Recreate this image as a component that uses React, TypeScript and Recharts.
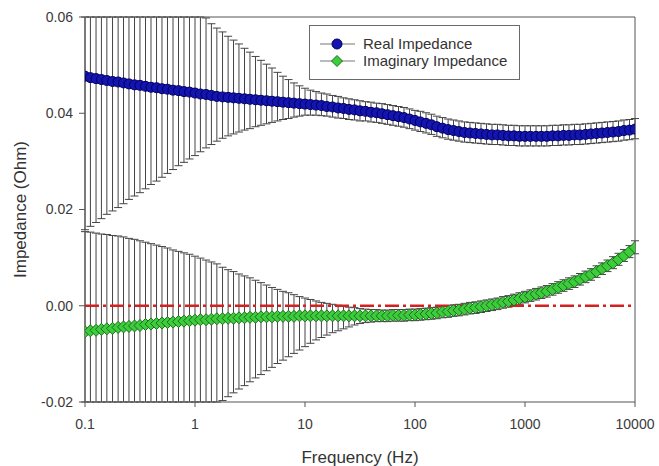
import React from 'react';
import { ComposedChart, Line, XAxis, YAxis, ErrorBar, ReferenceLine, Legend, Label } from 'recharts';

// 20 points per decade, 0.1 Hz .. 10 kHz
const frequency = [
  0.1, 0.112, 0.126, 0.141, 0.158, 0.178, 0.2, 0.224, 0.251, 0.282, 0.316, 0.355, 0.398, 0.447, 0.501, 0.562, 0.631, 0.708, 0.794, 0.891,
  1, 1.12, 1.26, 1.41, 1.58, 1.78, 2, 2.24, 2.51, 2.82, 3.16, 3.55, 3.98, 4.47, 5.01, 5.62, 6.31, 7.08, 7.94, 8.91,
  10, 11.2, 12.6, 14.1, 15.8, 17.8, 20, 22.4, 25.1, 28.2, 31.6, 35.5, 39.8, 44.7, 50.1, 56.2, 63.1, 70.8, 79.4, 89.1,
  100, 112, 126, 141, 158, 178, 200, 224, 251, 282, 316, 355, 398, 447, 501, 562, 631, 708, 794, 891,
  1000, 1120, 1260, 1410, 1580, 1780, 2000, 2240, 2510, 2820, 3160, 3550, 3980, 4470, 5010, 5620, 6310, 7080, 7940, 8910,
  10000,
];

const realZ = [
  0.0477, 0.0474, 0.0472, 0.047, 0.0468, 0.0466, 0.0465, 0.0463, 0.0461, 0.0459, 0.0458, 0.0456, 0.0454, 0.0453, 0.0451, 0.045, 0.0448, 0.0447, 0.0445, 0.0444,
  0.0442, 0.044, 0.0439, 0.0437, 0.0435, 0.0434, 0.0433, 0.0432, 0.0431, 0.043, 0.0429, 0.0428, 0.0427, 0.0426, 0.0425, 0.0424, 0.0423, 0.0422, 0.0421, 0.042,
  0.0419, 0.0418, 0.0417, 0.0416, 0.0414, 0.0413, 0.0411, 0.041, 0.0408, 0.0407, 0.0405, 0.0404, 0.0402, 0.0401, 0.0399, 0.0397, 0.0395, 0.0393, 0.0391, 0.0388,
  0.0385, 0.0382, 0.0379, 0.0376, 0.0372, 0.0369, 0.0366, 0.0364, 0.0362, 0.036, 0.0359, 0.0358, 0.0357, 0.0356, 0.0355, 0.0355, 0.0354, 0.0353, 0.0353, 0.0352,
  0.0352, 0.0352, 0.0352, 0.0352, 0.0352, 0.0353, 0.0353, 0.0354, 0.0354, 0.0355, 0.0355, 0.0356, 0.0357, 0.0358, 0.0359, 0.036, 0.0361, 0.0362, 0.0364, 0.0365,
  0.0367,
];

const realHigh = [
  0.08, 0.0795, 0.079, 0.0785, 0.078, 0.0775, 0.077, 0.076, 0.075, 0.074, 0.073, 0.072, 0.071, 0.07, 0.069, 0.0675, 0.066, 0.065, 0.064, 0.063,
  0.062, 0.061, 0.0598, 0.0586, 0.0577, 0.0569, 0.056, 0.0552, 0.0544, 0.0535, 0.0527, 0.0518, 0.051, 0.0502, 0.0494, 0.0485, 0.0477, 0.047, 0.0463, 0.0457,
  0.0452, 0.0448, 0.0445, 0.0442, 0.044, 0.0437, 0.0435, 0.0432, 0.043, 0.0428, 0.0426, 0.0424, 0.0423, 0.0421, 0.042, 0.0418, 0.0416, 0.0414, 0.0412, 0.0409,
  0.0406, 0.0404, 0.0401, 0.0398, 0.0394, 0.0391, 0.0388, 0.0386, 0.0384, 0.0382, 0.0381, 0.038, 0.0379, 0.0378, 0.0377, 0.0377, 0.0376, 0.0375, 0.0375, 0.0374,
  0.0374, 0.0374, 0.0374, 0.0374, 0.0374, 0.0375, 0.0375, 0.0376, 0.0376, 0.0377, 0.0377, 0.0378, 0.0379, 0.038, 0.0381, 0.0382, 0.0383, 0.0384, 0.0386, 0.0387,
  0.0389,
];

const realLow = [
  0.0158, 0.0165, 0.0173, 0.0181, 0.019, 0.0197, 0.0204, 0.0212, 0.0221, 0.0228, 0.0235, 0.0243, 0.0252, 0.0259, 0.0267, 0.0275, 0.0283, 0.0291, 0.0298, 0.0305,
  0.0312, 0.032, 0.0328, 0.0335, 0.0342, 0.0348, 0.0353, 0.0357, 0.0361, 0.0365, 0.0368, 0.0372, 0.0375, 0.0378, 0.0381, 0.0384, 0.0387, 0.0389, 0.0392, 0.0394,
  0.0396, 0.0396, 0.0396, 0.0395, 0.0394, 0.0392, 0.039, 0.0389, 0.0387, 0.0386, 0.0384, 0.0384, 0.0382, 0.0381, 0.0379, 0.0377, 0.0375, 0.0373, 0.0371, 0.0368,
  0.0365, 0.0362, 0.0359, 0.0356, 0.0352, 0.0349, 0.0346, 0.0344, 0.0342, 0.034, 0.0339, 0.0338, 0.0337, 0.0336, 0.0335, 0.0335, 0.0334, 0.0333, 0.0333, 0.0332,
  0.0332, 0.0332, 0.0332, 0.0332, 0.0332, 0.0333, 0.0333, 0.0334, 0.0334, 0.0335, 0.0335, 0.0336, 0.0337, 0.0338, 0.0339, 0.034, 0.0341, 0.0342, 0.0344, 0.0345,
  0.0347,
];

const imagZ = [
  -0.0054, -0.0052, -0.0051, -0.0049, -0.0048, -0.0047, -0.0045, -0.0044, -0.0043, -0.0042, -0.0041, -0.0039, -0.0038, -0.0037, -0.0036, -0.0035, -0.0034, -0.0033, -0.0032, -0.0031,
  -0.003, -0.0029, -0.0029, -0.0028, -0.0027, -0.0027, -0.0026, -0.0026, -0.0025, -0.0025, -0.0024, -0.0024, -0.0023, -0.0023, -0.0023, -0.0022, -0.0022, -0.0022, -0.0022, -0.0021,
  -0.0021, -0.0021, -0.0021, -0.0021, -0.0021, -0.0021, -0.0021, -0.0021, -0.0021, -0.0021, -0.0021, -0.0021, -0.0021, -0.0021, -0.0021, -0.0021, -0.002, -0.002, -0.002, -0.0019,
  -0.0019, -0.0018, -0.0017, -0.0016, -0.0015, -0.0013, -0.0012, -0.001, -0.0009, -0.0007, -0.0005, -0.0004, -0.0002, 0.0, 0.0002, 0.0004, 0.0007, 0.0009, 0.0012, 0.0015,
  0.0018, 0.0021, 0.0024, 0.0027, 0.003, 0.0034, 0.0038, 0.0042, 0.0046, 0.005, 0.0055, 0.006, 0.0065, 0.0071, 0.0077, 0.0083, 0.0089, 0.0096, 0.0104, 0.0112,
  0.0121,
];

const imagHigh = [
  0.0154, 0.0153, 0.0151, 0.0149, 0.0148, 0.0146, 0.0145, 0.0143, 0.014, 0.0138, 0.0135, 0.0132, 0.0129, 0.0126, 0.0123, 0.012, 0.0116, 0.0113, 0.011, 0.0107,
  0.0103, 0.0099, 0.0095, 0.0091, 0.0087, 0.008, 0.0075, 0.0071, 0.0066, 0.0062, 0.0058, 0.0053, 0.0048, 0.0043, 0.0038, 0.0034, 0.003, 0.0027, 0.0023, 0.0019,
  0.0016, 0.0013, 0.001, 0.0007, 0.0005, 0.0003, 0.0001, -0.0001, -0.0003, -0.0004, -0.0006, -0.0007, -0.0008, -0.0008, -0.0009, -0.0009, -0.0008, -0.0008, -0.0008, -0.0007,
  -0.0007, -0.0006, -0.0005, -0.0004, -0.0003, -0.0001, 0.0, 0.0002, 0.0003, 0.0005, 0.0007, 0.0008, 0.001, 0.0012, 0.0014, 0.0016, 0.0019, 0.0021, 0.0024, 0.0027,
  0.003, 0.0033, 0.0036, 0.0039, 0.0042, 0.0046, 0.005, 0.0054, 0.0058, 0.0062, 0.0067, 0.0072, 0.0077, 0.0083, 0.0089, 0.0095, 0.0102, 0.0109, 0.0117, 0.0125,
  0.0135,
];

const imagLow = [
  -0.0262, -0.0262, -0.0262, -0.0261, -0.026, -0.026, -0.0259, -0.0258, -0.0257, -0.0256, -0.0255, -0.0253, -0.0251, -0.0249, -0.0247, -0.0245, -0.0242, -0.0239, -0.0236, -0.0232,
  -0.0228, -0.0224, -0.0219, -0.0213, -0.0205, -0.0197, -0.0189, -0.0181, -0.0173, -0.0166, -0.0158, -0.015, -0.0143, -0.0135, -0.0128, -0.012, -0.0113, -0.0106, -0.0099, -0.0092,
  -0.0085, -0.0078, -0.0071, -0.0066, -0.0061, -0.0056, -0.0052, -0.0048, -0.0044, -0.004, -0.0037, -0.0035, -0.0034, -0.0033, -0.0033, -0.0033, -0.0032, -0.0032, -0.0032, -0.0031,
  -0.0031, -0.003, -0.0029, -0.0028, -0.0027, -0.0025, -0.0024, -0.0022, -0.0021, -0.0019, -0.0017, -0.0016, -0.0014, -0.0012, -0.001, -0.0008, -0.0005, -0.0003, 0.0, 0.0003,
  0.0006, 0.0009, 0.0012, 0.0015, 0.0018, 0.0022, 0.0026, 0.003, 0.0034, 0.0038, 0.0043, 0.0048, 0.0053, 0.0059, 0.0065, 0.0071, 0.0077, 0.0084, 0.0092, 0.01,
  0.0108,
];

const xTicks = [0.1, 1, 10, 100, 1000, 10000];
const yTicks = [-0.02, 0, 0.02, 0.04, 0.06];
const Y_MIN = -0.02;
const Y_MAX = 0.06;

// error bars are cut at the frame, like in the original plot
const clip = (v: number) => Math.min(Y_MAX, Math.max(Y_MIN, v));

const data = frequency.map((f, i) => ({
  f,
  real: realZ[i],
  realErr: [realZ[i] - clip(realLow[i]), clip(realHigh[i]) - realZ[i]],
  imag: imagZ[i],
  imagErr: [imagZ[i] - clip(imagLow[i]), clip(imagHigh[i]) - imagZ[i]],
}));

const FONT = '"Liberation Sans", Arial, sans-serif';
const BLUE = '#1414b0';
const BLUE_EDGE = '#000060';
const GREEN = '#3ccc3c';
const GREEN_EDGE = '#1d6e1d';

const diamond = (cx: number, cy: number, s: number) =>
  `M${cx},${cy - s}L${cx + s},${cy}L${cx},${cy + s}L${cx - s},${cy}Z`;

const BlueDot = (p: any) => (
  <circle key={`r-${p.index}`} cx={p.cx} cy={p.cy} r={5} fill={BLUE} stroke={BLUE_EDGE} strokeWidth={1} />
);

const GreenDot = (p: any) => (
  <path key={`i-${p.index}`} d={diamond(p.cx, p.cy, 6)} fill={GREEN} stroke={GREEN_EDGE} strokeWidth={1} />
);

const renderLegend = () => (
  <div
    style={{
      position: 'relative',
      width: 211,
      height: 55,
      boxSizing: 'border-box',
      border: '1px solid #6a6a6a',
      background: '#fff',
      fontFamily: FONT,
      fontSize: 15,
      color: '#333',
    }}
  >
    <svg width={50} height={53} style={{ position: 'absolute', left: 0, top: 0 }}>
      <line x1={10} y1={18} x2={45} y2={18} stroke="#777" />
      <circle cx={27} cy={18} r={5} fill={BLUE} stroke={BLUE_EDGE} />
      <line x1={10} y1={35} x2={45} y2={35} stroke="#777" />
      <path d={diamond(27, 35, 5.5)} fill={GREEN} stroke={GREEN_EDGE} />
    </svg>
    <div style={{ position: 'absolute', left: 53, top: 9, lineHeight: '18px', whiteSpace: 'nowrap' }}>Real Impedance</div>
    <div style={{ position: 'absolute', left: 53, top: 26, lineHeight: '18px', whiteSpace: 'nowrap' }}>Imaginary Impedance</div>
  </div>
);

export default function App() {
  return (
    <div style={{ position: 'absolute', left: 0, top: 0, width: 659, height: 466, background: '#fff' }}>
      <ComposedChart width={659} height={466} data={data} margin={{ top: 17, right: 24, bottom: 0, left: 0 }}>
        <XAxis
          dataKey="f"
          type="number"
          scale="log"
          domain={[0.1, 10000]}
          ticks={xTicks}
          allowDataOverflow
          height={64}
          tickSize={5}
          tickMargin={12}
          stroke="#555"
          tick={{ fontSize: 14, fill: '#3a3a3a', fontFamily: FONT }}
          tickFormatter={(v) => String(v)}
        >
          <Label value="Frequency (Hz)" position="insideBottom" offset={3} style={{ fontSize: 17, fill: '#333', fontFamily: FONT }} />
        </XAxis>
        <YAxis
          type="number"
          domain={[Y_MIN, Y_MAX]}
          ticks={yTicks}
          allowDataOverflow
          width={85}
          tickSize={6}
          tickMargin={6}
          stroke="#555"
          tick={{ fontSize: 14, fill: '#3a3a3a', fontFamily: FONT }}
          tickFormatter={(v) => Number(v).toFixed(2)}
        >
          <Label
            value="Impedance (Ohm)"
            angle={-90}
            position="insideLeft"
            offset={20}
            style={{ textAnchor: 'middle', fontSize: 17, fill: '#333', fontFamily: FONT }}
          />
        </YAxis>
        <Line
          dataKey="real"
          stroke="#222"
          strokeWidth={1}
          dot={BlueDot}
          activeDot={false}
          isAnimationActive={false}
        >
          <ErrorBar dataKey="realErr" direction="y" width={4} stroke="#444" strokeWidth={1} />
        </Line>
        <Line
          dataKey="imag"
          stroke="#222"
          strokeWidth={1}
          dot={GreenDot}
          activeDot={false}
          isAnimationActive={false}
        >
          <ErrorBar dataKey="imagErr" direction="y" width={4} stroke="#444" strokeWidth={1} />
        </Line>
        <ReferenceLine y={0} stroke="#d42020" strokeWidth={2.5} strokeDasharray="14 4 3 4" />
        <ReferenceLine y={Y_MAX} stroke="#555" />
        <ReferenceLine x={10000} stroke="#555" />
        <Legend
          content={renderLegend}
          layout="horizontal"
          verticalAlign="middle"
          align="center"
          wrapperStyle={{ left: 309, top: 25, width: 211, height: 55 }}
        />
      </ComposedChart>
    </div>
  );
}
